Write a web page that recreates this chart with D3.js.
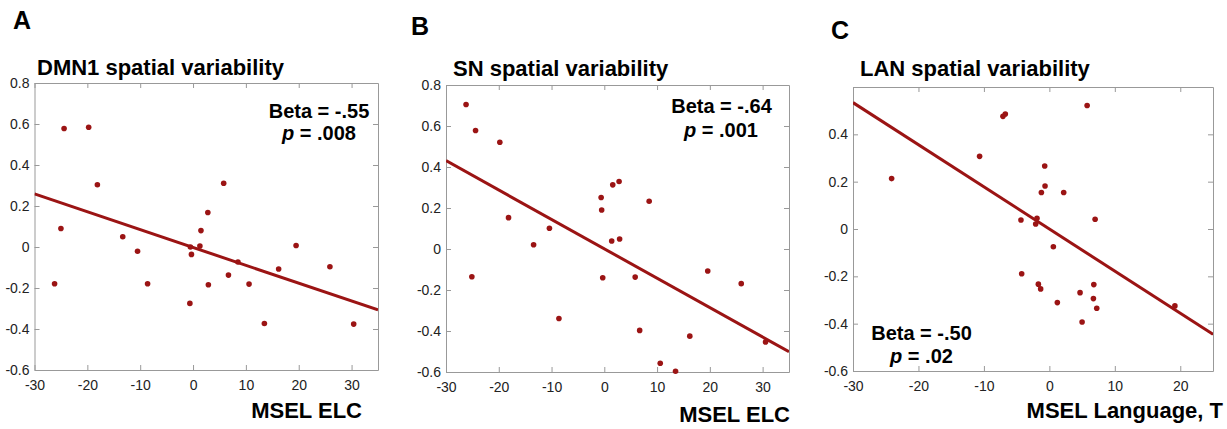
<!DOCTYPE html>
<html><head><meta charset="utf-8">
<script src="https://cdn.jsdelivr.net/npm/d3@7"></script>
<style>
body{margin:0;background:#fff}
text{font-family:"Liberation Sans",Arial,Helvetica,sans-serif}
</style>
</head><body>
<svg id="chart" width="1227" height="429"></svg>
<script>
// ---------- data ----------
const panelLetters = ["A", "B", "C"];
const panelTitles = ["DMN1 spatial variability", "SN spatial variability", "LAN spatial variability"];
const xAxisLabels = ["MSEL ELC", "MSEL ELC", "MSEL Language, T"];
const betaTexts = ["Beta = -.55", "Beta = -.64", "Beta = -.50"];
const pValues = [".008", ".001", ".02"];

const xTicksAB = [-30, -20, -10, 0, 10, 20, 30];
const xTicksC = [-30, -20, -10, 0, 10, 20];
const yTicksAB = [-0.6, -0.4, -0.2, 0, 0.2, 0.4, 0.6, 0.8];
const yTicksC = [-0.6, -0.4, -0.2, 0, 0.2, 0.4];
const xDomainAB = [-30, 35];
const xDomainC = [-30, 25];
const yDomainAB = [-0.6, 0.8];
const yDomainC = [-0.6, 0.6];

const xA = [-24.4, -19.75, -18.1, -25.0, -26.2, -13.3, -10.5, -8.6, -0.5, -0.3, -0.6, 1.3, 1.5, 2.8, 2.9, 5.8, 6.7, 8.5, 10.6, 13.5, 16.2, 19.5, 25.9, 30.4];
const yA = [0.578, 0.584, 0.304, 0.09, -0.179, 0.05, -0.021, -0.179, 0.0, -0.036, -0.275, 0.005, 0.08, 0.168, -0.184, 0.311, -0.137, -0.073, -0.181, -0.373, -0.107, 0.007, -0.096, -0.376];

const xB = [-26.2, -24.4, -19.8, -18.15, -25.1, -13.4, -10.4, -8.6, -0.6, -0.5, -0.3, 1.4, 1.6, 2.8, 2.9, 5.85, 6.7, 8.5, 10.6, 13.5, 16.2, 19.6, 25.95, 30.55];
const yB = [0.705, 0.578, 0.521, 0.153, -0.135, 0.021, 0.101, -0.339, 0.251, 0.19, -0.14, 0.039, 0.313, 0.329, 0.049, -0.137, -0.397, 0.233, -0.557, -0.596, -0.425, -0.107, -0.169, -0.454];

const xC = [-24.1, -10.66, -7.09, -6.73, -4.34, -4.23, -1.89, -2.09, -1.68, -1.33, -1.22, -0.71, -0.66, 0.61, 1.22, 2.19, 4.69, 5.0, 5.77, 6.79, 6.73, 6.99, 7.24, 19.18];
const yC = [0.213, 0.307, 0.476, 0.486, 0.038, -0.189, 0.045, 0.021, -0.233, -0.253, 0.154, 0.266, 0.182, -0.075, -0.311, 0.154, -0.269, -0.393, 0.522, -0.235, -0.294, 0.041, -0.335, -0.325];

// fitted regression lines (endpoints)
const fitA = [[-30, 0.259], [35, -0.307]];
const fitB = [[-30, 0.431], [35, -0.501]];
const fitC = [[-30, 0.534], [25, -0.445]];

// ---------- layout ----------
const panels = [
  {x: xA, y: yA, fit: fitA, xd: xDomainAB, yd: yDomainAB, xt: xTicksAB, yt: yTicksAB,
   box: {l: 34.5, r: 378, t: 83, b: 370},
   letter: [13, 29], title: [37, 75], xlab: [362, 418], beta: [319, 118], p: [319, 140]},
  {x: xB, y: yB, fit: fitB, xd: xDomainAB, yd: yDomainAB, xt: xTicksAB, yt: yTicksAB,
   box: {l: 446, r: 789, t: 85, b: 372},
   letter: [411, 35], title: [453, 76], xlab: [790, 422], beta: [721.5, 113], p: [721, 137]},
  {x: xC, y: yC, fit: fitC, xd: xDomainC, yd: yDomainC, xt: xTicksC, yt: yTicksC,
   box: {l: 853, r: 1213, t: 87, b: 371},
   letter: [831, 39], title: [860, 76], xlab: [1223, 418], beta: [921.5, 340], p: [921.5, 363]}
];

const red = "#9b1414";
const svg = d3.select("#chart");

panels.forEach((P, i) => {
  const g = svg.append("g");
  const xs = d3.scaleLinear().domain(P.xd).range([P.box.l, P.box.r]);
  const ys = d3.scaleLinear().domain(P.yd).range([P.box.b, P.box.t]);
  const tickFmt = d => (Math.abs(d) < 1e-9 ? "0" : d.toFixed(1));
  const xFmt = d => String(d);

  const axStyle = sel => {
    sel.attr("font-size", 14).attr("font-family", '"Liberation Sans", Arial, sans-serif');
    sel.select(".domain").attr("stroke", "#999").attr("stroke-width", 1);
    sel.selectAll(".tick line").attr("stroke", "#999");
    sel.selectAll(".tick text").attr("fill", "#222").attr("font-size", 14);
  };
  g.append("g").attr("transform", `translate(0,${P.box.b})`)
    .call(d3.axisBottom(xs).tickValues(P.xt).tickSizeInner(-5).tickSizeOuter(0).tickPadding(10).tickFormat(xFmt))
    .call(axStyle);
  g.append("g").attr("transform", `translate(0,${P.box.t})`)
    .call(d3.axisTop(xs).tickValues(P.xt).tickSizeInner(-5).tickSizeOuter(0).tickFormat(""))
    .call(axStyle);
  g.append("g").attr("transform", `translate(${P.box.l},0)`)
    .call(d3.axisLeft(ys).tickValues(P.yt).tickSizeInner(-5).tickSizeOuter(0).tickPadding(5).tickFormat(tickFmt))
    .call(axStyle);
  g.append("g").attr("transform", `translate(${P.box.r},0)`)
    .call(d3.axisRight(ys).tickValues(P.yt).tickSizeInner(-5).tickSizeOuter(0).tickFormat(""))
    .call(axStyle);

  const cid = "clip" + i;
  svg.append("clipPath").attr("id", cid).append("rect")
    .attr("x", P.box.l).attr("y", P.box.t - 3)
    .attr("width", P.box.r - P.box.l).attr("height", P.box.b - P.box.t + 6);

  g.append("path").datum(P.fit)
    .attr("clip-path", `url(#${cid})`)
    .attr("d", d3.line().x(d => xs(d[0])).y(d => ys(d[1])))
    .attr("stroke", red).attr("stroke-width", 3).attr("fill", "none");

  g.selectAll("circle.pt").data(P.x.map((v, k) => [v, P.y[k]])).enter()
    .append("circle").attr("class", "pt")
    .attr("cx", d => xs(d[0])).attr("cy", d => ys(d[1])).attr("r", 2.8)
    .attr("fill", red);

  g.append("text").attr("x", P.letter[0]).attr("y", P.letter[1])
    .attr("font-weight", "bold").attr("font-size", 25).attr("fill", "#000").text(panelLetters[i]);
  g.append("text").attr("x", P.title[0]).attr("y", P.title[1])
    .attr("font-weight", "bold").attr("font-size", 22).attr("fill", "#000").text(panelTitles[i]);
  g.append("text").attr("x", P.xlab[0]).attr("y", P.xlab[1]).attr("text-anchor", "end")
    .attr("font-weight", "bold").attr("font-size", 22).attr("fill", "#000").text(xAxisLabels[i]);
  g.append("text").attr("x", P.beta[0]).attr("y", P.beta[1]).attr("text-anchor", "middle")
    .attr("font-weight", "bold").attr("font-size", 20).attr("fill", "#000").text(betaTexts[i]);
  const pt = g.append("text").attr("x", P.p[0]).attr("y", P.p[1]).attr("text-anchor", "middle")
    .attr("font-weight", "bold").attr("font-size", 20).attr("fill", "#000");
  pt.append("tspan").attr("font-style", "italic").text("p");
  pt.append("tspan").text(" = " + pValues[i]);
});
</script>
</body></html>
